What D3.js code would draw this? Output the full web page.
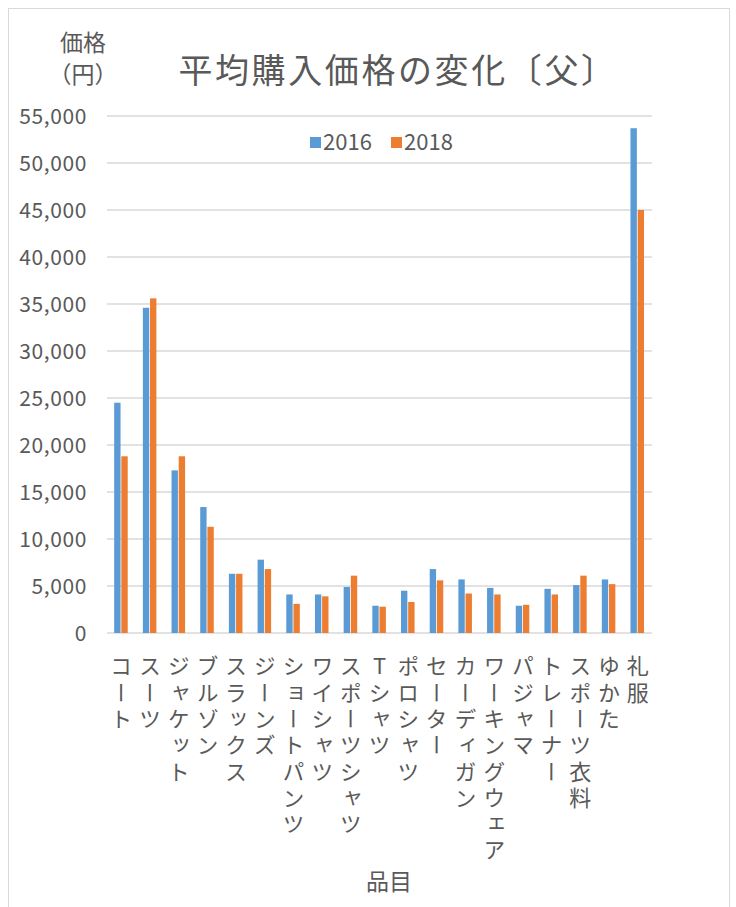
<!DOCTYPE html>
<html><head><meta charset="utf-8">
<script src="https://cdn.jsdelivr.net/npm/d3@7"></script>
<style>
body{margin:0;background:#fff;}
svg{display:block;font-family:"Noto Sans CJK JP","Noto Sans",sans-serif;}
</style></head>
<body><svg id="c" width="736" height="907"></svg>
<script>
const categories = ["コート","スーツ","ジャケット","ブルゾン","スラックス","ジーンズ","ショートパンツ","ワイシャツ","スポーツシャツ","Tシャツ","ポロシャツ","セーター","カーディガン","ワーキングウェア","パジャマ","トレーナー","スポーツ衣料","ゆかた","礼服"];
const values2016 = [24500,34600,17300,13400,6300,7800,4100,4100,4900,2900,4500,6800,5700,4800,2900,4700,5100,5700,53700];
const values2018 = [18800,35600,18800,11300,6300,6800,3100,3900,6100,2800,3300,5600,4200,4100,3000,4100,6100,5200,45000];
const seriesNames = ["2016","2018"];
const yTicks = [0,5000,10000,15000,20000,25000,30000,35000,40000,45000,50000,55000];
const titleText = "平均購入価格の変化〔父〕";
const yTitle = ["価格","（円）"];
const xTitle = "品目";

const colors = ["#5B9BD5","#ED7D31"];
const textColor = "#595959";
const svg = d3.select("#c");

// border
svg.append("rect").attr("x",8.5).attr("y",8.5).attr("width",721).attr("height",910)
  .attr("fill","none").attr("stroke","#D9D9D9").attr("stroke-width",1);

const x = d3.scaleBand().domain(categories).range([107,652]).paddingInner(0).paddingOuter(0);
const y = d3.scaleLinear().domain([0,55000]).range([633,116]);
const inner = d3.scaleBand().domain(seriesNames).range([x.bandwidth()*0.25, x.bandwidth()*0.75]);

// gridlines
svg.append("g").selectAll("line").data(yTicks).join("line")
  .attr("x1",107).attr("x2",652).attr("y1",d=>y(d)).attr("y2",d=>y(d))
  .attr("stroke","#D9D9D9").attr("stroke-width",d=>d===0?1.6:1.3);

// y labels
svg.append("g").selectAll("text").data(yTicks).join("text")
  .attr("x",87).attr("y",d=>y(d)).attr("dy","0.36em").attr("text-anchor","end")
  .attr("fill",textColor).attr("font-size",21).style("letter-spacing","0.6px")
  .text(d=>d3.format(",")(d));

// bars
const series = [values2016, values2018];
series.forEach((vals,si)=>{
  svg.append("g").selectAll("rect").data(categories).join("rect")
    .attr("x",d=>x(d)+inner(seriesNames[si]))
    .attr("y",(d,i)=>y(vals[i]))
    .attr("width",inner.bandwidth()-0.8)
    .attr("height",(d,i)=>y(0)-y(vals[i]))
    .attr("fill",colors[si]);
});

// x labels vertical
svg.append("g").selectAll("text").data(categories).join("text")
  .attr("x",d=>x(d)+x.bandwidth()/2)
  .attr("y",655)
  .style("writing-mode","vertical-rl")
  .style("text-orientation","upright")
  .style("letter-spacing","4.3px")
  .attr("fill",textColor).attr("font-size",22)
  .text(d=>d);

// title
svg.append("text").attr("x",398).attr("y",83).attr("text-anchor","middle")
  .attr("fill",textColor).attr("font-size",34).style("letter-spacing","2.6px").text(titleText);

// y axis title
svg.append("text").attr("x",83).attr("y",51).attr("text-anchor","middle")
  .attr("fill",textColor).attr("font-size",23).text(yTitle[0]);
svg.append("text").attr("x",83).attr("y",83).attr("text-anchor","middle")
  .attr("fill",textColor).attr("font-size",23).text(yTitle[1]);

// x axis title
svg.append("text").attr("x",389).attr("y",890).attr("text-anchor","middle")
  .attr("fill",textColor).attr("font-size",23).text(xTitle);

// legend
const legX = [310,391];
seriesNames.forEach((s,i)=>{
  svg.append("rect").attr("x",legX[i]).attr("y",137).attr("width",11).attr("height",11).attr("fill",colors[i]);
  svg.append("text").attr("x",legX[i]+13).attr("y",150).attr("fill",textColor).attr("font-size",22).text(s);
});
</script></body></html>
